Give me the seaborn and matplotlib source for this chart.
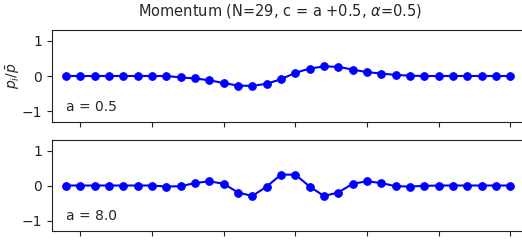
import numpy as np
import pandas as pd
import matplotlib
matplotlib.use("Agg")
import matplotlib.pyplot as plt
import seaborn as sns

sns.set_style("ticks")
plt.rcParams['font.family'] = ['DejaVu Sans']

x_pos = list(range(-1, 31))
p_a05 = [0, 0, 0, 0, 0, 0, 0, 0, -0.04, -0.07, -0.12, -0.20, -0.27, -0.28, -0.22, -0.09,
         0.09, 0.21, 0.27, 0.26, 0.18, 0.11, 0.07, 0.03, 0.01, 0, 0, 0, 0, 0, 0, 0]
p_a80 = [0, 0, 0, 0, 0, 0, 0, -0.03, -0.02, 0.07, 0.12, 0.05, -0.20, -0.30, -0.03, 0.31,
         0.31, -0.03, -0.30, -0.20, 0.05, 0.12, 0.07, -0.02, -0.03, -0.01, 0, 0, 0, 0, 0, 0]
labels = ["a = 0.5", "a = 8.0"]
title = r"Momentum (N=29, c = a +0.5, $\alpha$=0.5)"

fig = plt.figure(figsize=(5.22, 2.41), dpi=100)
W, H = 522, 241
left = 51.7 / W
width = (524.6 - 51.7) / W
ax1 = fig.add_axes([left, 1 - 122 / H, width, 92 / H])
ax2 = fig.add_axes([left, 1 - 231 / H, width, 91 / H])

for ax, vals, lab in [(ax1, p_a05, labels[0]), (ax2, p_a80, labels[1])]:
    df = pd.DataFrame({"x": x_pos, "p": vals})
    sns.lineplot(data=df, x="x", y="p", ax=ax, color="blue", marker="o",
                 markersize=5.5, markeredgecolor="blue", linewidth=1.5)
    ax.set_xlim(-2, 31)
    ax.set_ylim(-1.3, 1.3)
    ax.set_yticks([-1, 0, 1])
    ax.set_xticks([0, 5, 10, 15, 20, 25, 30])
    ax.set_xticklabels([])
    ax.set_xlabel("")
    ax.set_ylabel("")
    ax.tick_params(labelsize=10, colors="#222222")
    for s in ax.spines.values():
        s.set_visible(True)
        s.set_color("#222222")
    ax.text(0.03, 0.16, lab, transform=ax.transAxes, fontsize=10, va="center", ha="left")

ax1.set_ylabel(r"$p_i/\bar{p}$", fontsize=10)
ax1.yaxis.set_label_coords(-0.063, 0.5)
fig.text(280 / W, 1 - 11 / H, title, ha="center", va="center", fontsize=10.5)

fig.savefig("out.png", dpi=100)
